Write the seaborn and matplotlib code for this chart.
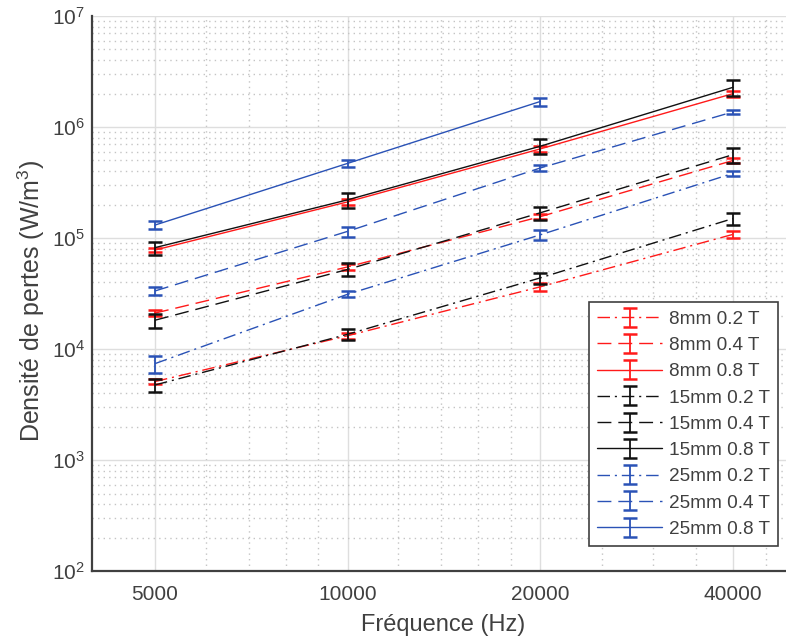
import numpy as np
import pandas as pd
import matplotlib
matplotlib.use("Agg")
import matplotlib.pyplot as plt
import matplotlib.ticker as mticker
from matplotlib.legend_handler import HandlerTuple
import seaborn as sns

# ---------------- data ----------------
freq = [5000, 10000, 20000, 40000]
labels = ["8mm 0.2 T", "8mm 0.4 T", "8mm 0.8 T",
          "15mm 0.2 T", "15mm 0.4 T", "15mm 0.8 T",
          "25mm 0.2 T", "25mm 0.4 T", "25mm 0.8 T"]
mm8_02 = [5100, 13200, 36400, 108000]
mm8_04 = [21100, 55000, 156000, 500000]
mm8_08 = [78000, 212000, 636000, 2000000]
mm15_02 = [4750, 13600, 43800, 150000]
mm15_04 = [18200, 52200, 169000, 564000]
mm15_08 = [82000, 221000, 672000, 2280000]
mm25_02 = [7400, 31200, 107000, 383000]
mm25_04 = [33400, 115000, 428000, 1370000]
mm25_08 = [131000, 471000, 1700000, np.nan]

err8_02 = [300, 800, 3000, 8000]
err8_04 = [1200, 3000, 8000, 30000]
err8_08 = [3800, 12000, 40000, 120000]
err15_02 = [650, 1500, 5000, 18000]
err15_04 = [2700, 7000, 23000, 87000]
err15_08 = [11000, 33000, 105000, 360000]
err25_02 = [1300, 2000, 11000, 20000]
err25_04 = [2500, 12000, 25000, 60000]
err25_08 = [11000, 33000, 140000, np.nan]

values = [mm8_02, mm8_04, mm8_08, mm15_02, mm15_04, mm15_08, mm25_02, mm25_04, mm25_08]
errors = [err8_02, err8_04, err8_08, err15_02, err15_04, err15_08, err25_02, err25_04, err25_08]

x_major = [5000, 10000, 20000, 40000]
x_minor = [6000, 7000, 8000, 9000, 12000, 14000, 16000, 18000, 25000, 30000, 35000, 45000]

# ---------------- style ----------------
sns.set_style("white")
plt.rcParams["font.family"] = ["Liberation Sans", "DejaVu Sans"]
plt.rcParams["mathtext.fontset"] = "custom"
plt.rcParams["mathtext.rm"] = "Liberation Sans"
plt.rcParams["mathtext.it"] = "Liberation Sans:italic"
plt.rcParams["mathtext.bf"] = "Liberation Sans:bold"

RED = "#ff1a1a"
BLACK = "#111111"
BLUE = "#2a52b6"
colors = [RED] * 3 + [BLACK] * 3 + [BLUE] * 3
DASHDOT = (0, (9, 3.5, 1.5, 3.5))
DASHED = (0, (10, 5))
styles = [DASHDOT, DASHED, "-"] * 3
TXT = "#404040"

fig = plt.figure(figsize=(7.86, 6.41), dpi=100)
ax = fig.add_axes([0.117, 0.109, 0.883, 0.866])
ax.set_xscale("log")
ax.set_yscale("log")
ax.set_xlim(3985, 48400)
ax.set_ylim(1e2, 1e7)

handles = []
for lab, v, e, c, ls in zip(labels, values, errors, colors, styles):
    df = pd.DataFrame({"f": freq, "p": v})
    sns.lineplot(data=df, x="f", y="p", color=c, linestyle=ls, linewidth=1.0, ax=ax,
                 legend=False)
    line = ax.lines[-1]
    eb = ax.errorbar(freq, v, yerr=e, fmt="none", ecolor=c, elinewidth=1.3,
                     capsize=4.8, capthick=1.8)
    handles.append((line, eb))

# ticks
ax.xaxis.set_major_locator(mticker.FixedLocator(x_major))
ax.xaxis.set_major_formatter(mticker.FixedFormatter([str(t) for t in x_major]))
ax.xaxis.set_minor_locator(mticker.FixedLocator(x_minor))
ax.xaxis.set_minor_formatter(mticker.NullFormatter())
ax.yaxis.set_major_locator(mticker.LogLocator(base=10, numticks=10))
ax.yaxis.set_minor_locator(mticker.LogLocator(base=10, subs=np.arange(2, 10), numticks=20))
ax.yaxis.set_minor_formatter(mticker.NullFormatter())

ax.tick_params(which="major", direction="in", length=7, width=1.5, color="#404040",
               labelsize=15, labelcolor=TXT, pad=10)
ax.tick_params(which="minor", direction="in", length=4.5, width=1.2, color="#404040")
ax.tick_params(axis="y", which="major", pad=5)

ax.grid(which="major", color="#dedede", linestyle="-", linewidth=1.0)
ax.grid(which="minor", color="#c4c4c4", linestyle=(0, (1, 3)), linewidth=1.0)
ax.set_axisbelow(True)

for s in ["top", "right"]:
    ax.spines[s].set_visible(False)
for s in ["left", "bottom"]:
    ax.spines[s].set_color("#404040")
    ax.spines[s].set_linewidth(1.6)

ax.set_xlabel("Fréquence (Hz)", fontsize=17, color=TXT)
ax.set_ylabel("Densité de pertes (W/m$^3$)", fontsize=18, color=TXT)
ax.xaxis.set_label_coords(0.5065, -0.0765)
ax.yaxis.set_label_coords(-0.0645, 0.4865)

leg = ax.legend(handles, labels, handler_map={tuple: HandlerTuple(ndivide=1, pad=0)},
                loc="upper left", bbox_to_anchor=(0.716, 0.485), borderaxespad=0,
                fontsize=13.7, handlelength=3.4, handletextpad=0.35, labelspacing=0.47,
                borderpad=0.45, frameon=True, fancybox=False, framealpha=1)
leg.get_frame().set_edgecolor("#404040")
leg.get_frame().set_linewidth(1.2)
for t in leg.get_texts():
    t.set_color(TXT)

fig.savefig("out.png", dpi=100)
